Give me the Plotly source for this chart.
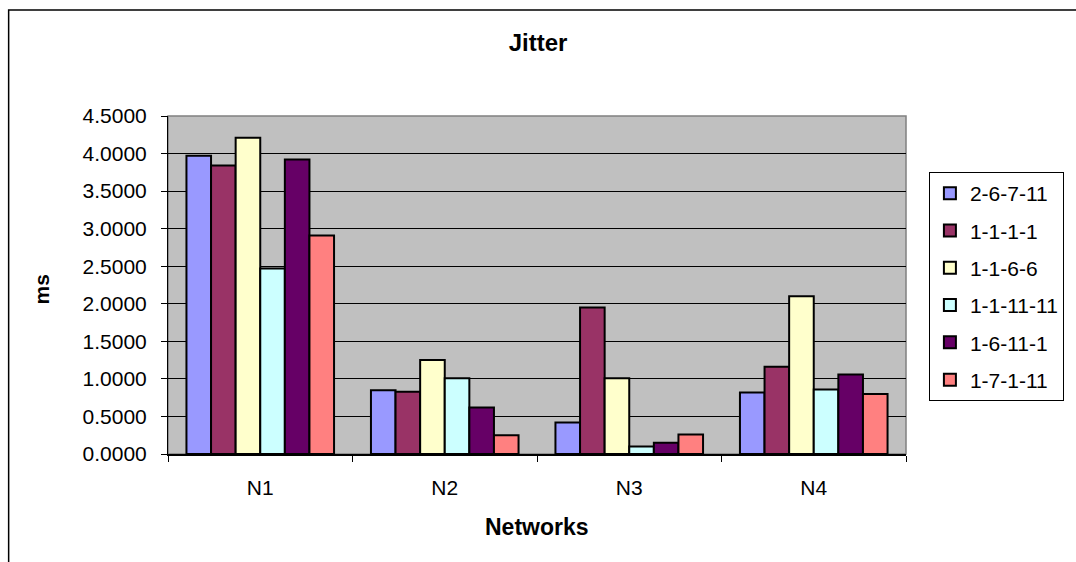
import plotly.graph_objects as go

# Jitter per network for each channel assignment
networks = ["N1", "N2", "N3", "N4"]
series_names = ["2-6-7-11", "1-1-1-1", "1-1-6-6", "1-1-11-11", "1-6-11-1", "1-7-1-11"]
jitter_2_6_7_11 = [3.97, 0.85, 0.42, 0.82]
jitter_1_1_1_1 = [3.84, 0.83, 1.95, 1.16]
jitter_1_1_6_6 = [4.21, 1.25, 1.01, 2.10]
jitter_1_1_11_11 = [2.47, 1.01, 0.10, 0.86]
jitter_1_6_11_1 = [3.92, 0.62, 0.15, 1.06]
jitter_1_7_1_11 = [2.91, 0.25, 0.26, 0.80]
y_ticks = [0.0, 0.5, 1.0, 1.5, 2.0, 2.5, 3.0, 3.5, 4.0, 4.5]

series_values = [jitter_2_6_7_11, jitter_1_1_1_1, jitter_1_1_6_6,
                 jitter_1_1_11_11, jitter_1_6_11_1, jitter_1_7_1_11]
colors = ["#9999FF", "#993366", "#FFFFCC", "#CCFFFF", "#660066", "#FF8080"]

FONT = "Liberation Sans, Arial, sans-serif"

fig = go.Figure()
for name, vals, col in zip(series_names, series_values, colors):
    fig.add_trace(go.Bar(
        x=networks, y=vals, name=name, legendgroup=name,
        marker=dict(color=col, line=dict(color="black", width=2)),
    ))

W, H = 1076, 562
L, R, T, B = 168, 167, 116, 108

fig.update_layout(
    width=W, height=H,
    margin=dict(l=L, r=R, t=T, b=B),
    paper_bgcolor="white",
    plot_bgcolor="#C0C0C0",
    barmode="group",
    bargap=0.2,
    bargroupgap=0,
    font=dict(family=FONT, size=21, color="black"),
    title=dict(text="<b>Jitter</b>", x=0.5, xanchor="center",
               y=1 - 43 / H, yanchor="middle", yref="container",
               font=dict(family=FONT, size=24, color="black")),
    legend=dict(
        x=(932 - L) / (W - L - R), xanchor="left",
        y=(H - B - 172) / (H - T - B), yanchor="top",
        bordercolor="black", borderwidth=1, bgcolor="white",
        font=dict(family=FONT, size=21),
        tracegroupgap=7,
    ),
    showlegend=True,
)

fig.update_xaxes(
    type="category",
    showgrid=False,
    showline=True, linecolor="black", linewidth=1.5,
    ticks="outside", ticklen=6, tickcolor="black",
    tickson="boundaries",
    ticklabelstandoff=14,
    tickfont=dict(size=21),
)
fig.update_yaxes(
    range=[0, 4.5],
    tickvals=y_ticks,
    tickformat=".4f",
    showgrid=True, gridcolor="black", gridwidth=1,
    showline=True, linecolor="black", linewidth=1,
    ticks="outside", ticklen=6, tickcolor="black",
    ticklabelstandoff=10,
    zeroline=False,
    tickfont=dict(size=21),
)

# plot-area frame and outer chart border
fig.add_shape(type="rect", xref="paper", yref="paper", x0=0, x1=1, y0=0, y1=1,
              line=dict(color="#808080", width=1.5), layer="below")
fig.add_shape(type="rect", xref="paper", yref="paper",
              x0=(8 - L) / (W - L - R), x1=(W + 20 - L) / (W - L - R),
              y0=(H - B - (H + 20)) / (H - T - B), y1=(H - B - 10) / (H - T - B),
              line=dict(color="black", width=1.5))

# axis titles
fig.add_annotation(text="<b>ms</b>", textangle=-90, showarrow=False,
                   xref="paper", yref="paper",
                   x=(40 - L) / (W - L - R), y=(H - B - 290) / (H - T - B),
                   xanchor="center", yanchor="middle",
                   font=dict(family=FONT, size=21))
fig.add_annotation(text="<b>Networks</b>", showarrow=False,
                   xref="paper", yref="paper",
                   x=(538 - L) / (W - L - R), y=(H - B - 527) / (H - T - B),
                   xanchor="center", yanchor="middle",
                   font=dict(family=FONT, size=23))

fig.write_html("out.html")
